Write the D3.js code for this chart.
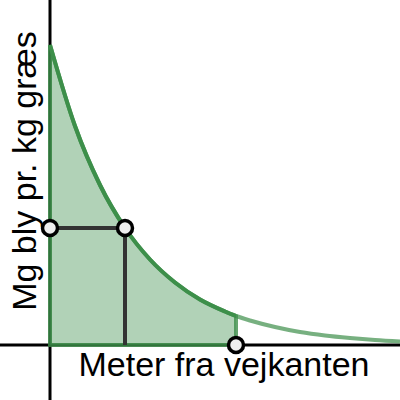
<!DOCTYPE html>
<html>
<head>
<script src="https://d3js.org/d3.v7.min.js"></script>
<style>
  body { margin: 0; background: #fff; }
  text { font-family: "Liberation Sans", Arial, sans-serif; }
</style>
</head>
<body>
<svg id="chart" width="400" height="400"></svg>
<script>
    // curve (x = meter, y = mg bly)
    const meters = [0, 0.5, 1, 1.5, 2, 2.5, 3, 3.5, 3.72, 4, 4.5, 5, 5.5, 6, 6.5, 7];
    const lead   = [6, 4.38, 3.2, 2.34, 1.71, 1.25, 0.91, 0.67, 0.58, 0.49, 0.36, 0.26, 0.19, 0.14, 0.1, 0.07];
    const cutX = 3.72;          // end of shaded part
    const halfX = 1.5;          // marked point on curve
    const halfY = 2.34;

    const svg = d3.select("#chart");
    const x = d3.scaleLinear().domain([0, 7]).range([50, 400]);
    const y = d3.scaleLinear().domain([0, 6]).range([345, 45]);

    const data = meters.map((m, i) => ({ x: m, y: lead[i] }));
    const GREEN = "#3d8f4a";

    svg.append("clipPath").attr("id", "left")
        .append("rect").attr("x", 0).attr("y", 0).attr("width", x(cutX)).attr("height", 400);
    svg.append("clipPath").attr("id", "right")
        .append("rect").attr("x", x(cutX)).attr("y", 0).attr("width", 400).attr("height", 400);

    // axes
    svg.append("line").attr("x1", 0).attr("x2", 400).attr("y1", y(0)).attr("y2", y(0))
        .attr("stroke", "#000").attr("stroke-width", 3);
    svg.append("line").attr("x1", x(0)).attr("x2", x(0)).attr("y1", 0).attr("y2", 400)
        .attr("stroke", "#000").attr("stroke-width", 3);

    // shaded area
    const area = d3.area().x(d => x(d.x)).y0(y(0)).y1(d => y(d.y)).curve(d3.curveMonotoneX);
    svg.append("path").datum(data.filter(d => d.x <= cutX))
        .attr("d", d => area(d) + "Z")
        .attr("fill", GREEN).attr("fill-opacity", 0.4)
        .attr("stroke", GREEN).attr("stroke-opacity", 0.8).attr("stroke-width", 4);

    // curve
    const line = d3.line().x(d => x(d.x)).y(d => y(d.y)).curve(d3.curveMonotoneX);
    svg.append("path").datum(data).attr("d", line)
        .attr("fill", "none").attr("stroke", GREEN).attr("stroke-width", 4)
        .attr("clip-path", "url(#left)");
    svg.append("path").datum(data).attr("d", line)
        .attr("fill", "none").attr("stroke", GREEN).attr("stroke-opacity", 0.7).attr("stroke-width", 4)
        .attr("clip-path", "url(#right)");

    // guide lines
    svg.append("line").attr("x1", x(0)).attr("x2", x(halfX)).attr("y1", y(halfY)).attr("y2", y(halfY))
        .attr("stroke", "#333").attr("stroke-width", 4);
    svg.append("line").attr("x1", x(halfX)).attr("x2", x(halfX)).attr("y1", y(halfY)).attr("y2", y(0))
        .attr("stroke", "#333").attr("stroke-width", 4);

    // points
    const pts = [[0, halfY], [halfX, halfY], [cutX, 0]];
    svg.selectAll("circle").data(pts).enter().append("circle")
        .attr("cx", d => x(d[0])).attr("cy", d => y(d[1])).attr("r", 7.5)
        .attr("fill", "#eee").attr("stroke", "#000").attr("stroke-width", 3.5);

    // labels
    svg.append("text").attr("x", 224).attr("y", 376).attr("text-anchor", "middle")
        .style("font-size", "34px").text("Meter fra vejkanten");
    svg.append("text").attr("transform", "translate(36,171) rotate(-90)").attr("text-anchor", "middle")
        .style("font-size", "34px").text("Mg bly pr. kg græs");
</script>
</body>
</html>
